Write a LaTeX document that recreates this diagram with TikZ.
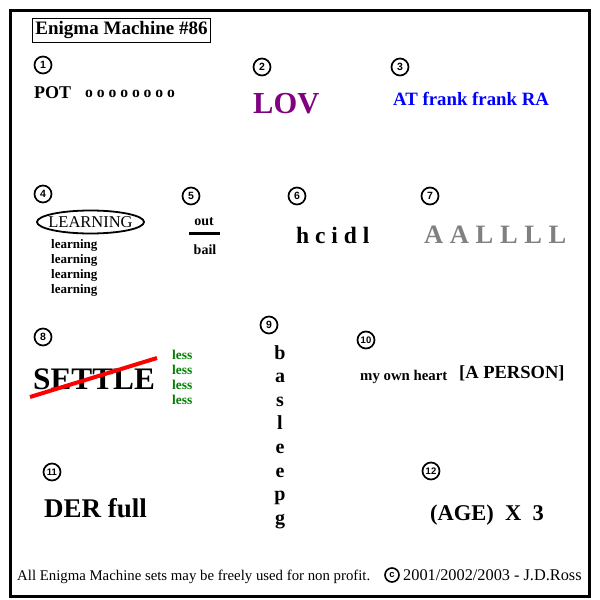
\documentclass[tikz,border=0pt]{standalone}
\usepackage{fontspec}
\setmainfont{Liberation Serif}
\setsansfont{Liberation Sans}
\usetikzlibrary{shapes.geometric}
\newcommand\fsz[1]{\fontsize{#1}{#1}\selectfont}
\definecolor{lovpurple}{HTML}{800080}
\definecolor{atblue}{HTML}{0000FF}
\definecolor{lessgreen}{HTML}{008000}
\definecolor{agray}{HTML}{808080}
\definecolor{xred}{HTML}{FF0000}
\tikzset{
  num/.style={circle, draw, line width=1.7pt, minimum size=17pt, inner sep=0pt, font=\sffamily\bfseries\fsz{10.5}},
  bt/.style={anchor=base west, inner sep=0pt, font=\bfseries\fsz{#1}},
  bt/.default=18,
  rt/.style={anchor=base west, inner sep=0pt, font=\fsz{#1}},
}
\begin{document}
\begin{tikzpicture}[x=1pt,y=-1pt]
\useasboundingbox (0,0) rectangle (600,600);
\fill[white] (0,0) rectangle (600,600);
% frame
\draw[line width=3pt] (10.5,10.5) rectangle (589.5,596.5);
% title
\node[draw, line width=1.8pt, minimum width=178pt, minimum height=24pt, inner sep=0pt, font=\bfseries\fsz{19}] (title) at (121.5,30.5) {Enigma Machine \#86};
% circled numbers
\node[num] (n1) at (43,65) {1};
\node[num] (n2) at (262,67) {2};
\node[num] (n3) at (400,67) {3};
\node[num] (n4) at (43,194) {4};
\node[num] (n5) at (191,196) {5};
\node[num] (n6) at (297,196) {6};
\node[num] (n7) at (430,196) {7};
\node[num] (n8) at (43,337) {8};
\node[num] (n9) at (269,325) {9};
\node[num, font=\sffamily\bfseries\fsz{9.5}] (n10) at (366,340) {10};
\node[num, font=\sffamily\bfseries\fsz{9.5}] (n11) at (52,472) {11};
\node[num, font=\sffamily\bfseries\fsz{9.5}] (n12) at (431,471) {12};
% 1
\node[bt=18] (pot) at (34,98) {POT};
\node[bt=15.6] (oo) at (85,97) {o o o o o o o o};
% 2
\node[bt=30.5, text=lovpurple] (lov) at (253,113) {LOV};
% 3
\node[bt=18.8, text=atblue] (at) at (393,105) {AT frank frank RA};
% 4
\node[inner sep=0pt, font=\fsz{16.5}] (learn) at (90.5,222) {LEARNING};
\draw[line width=1.8pt] (learn.center) ellipse [x radius=53.5, y radius=11.5];
\node[bt=13] (l1) at (51,248) {learning};
\node[bt=13] (l2) at (51,263) {learning};
\node[bt=13] (l3) at (51,278) {learning};
\node[bt=13] (l4) at (51,293) {learning};
% 5
\node[anchor=base, inner sep=0pt, font=\bfseries\fsz{14}] (out) at (204,225) {out};
\node[anchor=base, inner sep=0pt, font=\bfseries\fsz{14}] (bail) at (205,254) {bail};
\coordinate (ba) at (189,233);
\coordinate (bb) at (220,233);
\draw[line width=3pt] (ba) -- (bb);
% 6
\node[bt=23.5] (hcidl) at (296,243) {h c i d l};
% 7
\node[bt=26.5, text=agray] (aal) at (424,243) {A A L L L L};
% 8
\node[bt=31.3] (settle) at (33,389) {SETTLE};
\coordinate (s1) at (30,397);
\coordinate (s2) at (157,358);
\draw[line width=4pt, xred] (s1) -- (s2);
\node[bt=13.5, text=lessgreen] (ls1) at (172,359) {less};
\node[bt=13.5, text=lessgreen] (ls2) at (172,374) {less};
\node[bt=13.5, text=lessgreen] (ls3) at (172,389) {less};
\node[bt=13.5, text=lessgreen] (ls4) at (172,404) {less};
% 9
\foreach \c [count=\i from 0] in {b,a,s,l,e,e,p,g}{
  \node[anchor=base, inner sep=0pt, font=\bfseries\fsz{20}] (v\i) at (280,359+23.6*\i) {\c};
}
% 10
\node[bt=14.8] (heart) at (360,380) {my own heart};
\node[bt=18.5] (person) at (459,378) {[A PERSON]};
% 11
\node[bt=27] (der) at (44,517) {DER full};
% 12
\node[bt=22.5] (age) at (430,520) {(AGE)\ \ X\ \ 3};
% footer
\node[rt=14.8] (foot) at (17,580) {All Enigma Machine sets may be freely used for non profit.};
\node[circle, draw, line width=1.6pt, minimum size=14pt, inner sep=0pt, font=\sffamily\bfseries\fsz{9.5}] (copy) at (392,575) {c};
\node[rt=16.3] (years) at (403,580) {2001/2002/2003 - J.D.Ross};
\end{tikzpicture}
\end{document}
